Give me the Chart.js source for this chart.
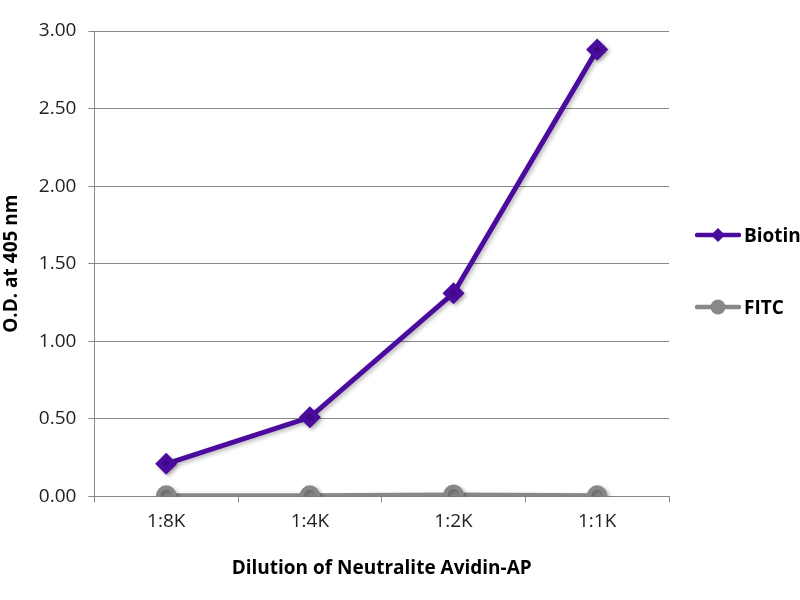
<!DOCTYPE html>
<html>
<head>
<meta charset="utf-8">
<script src="https://cdn.jsdelivr.net/npm/chart.js@4.4.0/dist/chart.umd.min.js"></script>
<style>
html,body{margin:0;padding:0;background:#fff;}
#wrap{position:relative;width:800px;height:600px;overflow:hidden;}
#legend{position:absolute;left:0;top:0;width:800px;height:600px;pointer-events:none;}
.item{position:absolute;left:695px;display:flex;align-items:center;height:22px;
  font-family:'Open Sans','Noto Sans',sans-serif;font-weight:bold;font-size:19px;color:#000;white-space:nowrap;}
.item canvas{display:block;margin-right:3px;}
</style>
</head>
<body>
<div id="wrap"><canvas id="c" width="800" height="600"></canvas><div id="legend"></div></div>
<script>
const categories = ["1:8K", "1:4K", "1:2K", "1:1K"];
const biotinValues = [0.21, 0.51, 1.31, 2.88];
const fitcValues = [0.005, 0.005, 0.01, 0.005];
const seriesNames = ["Biotin", "FITC"];
const yTickValues = [0, 0.5, 1, 1.5, 2, 2.5, 3];

const purple = "#4b0c9e";
const gray = "#888888";
const fontFam = "'Open Sans', 'Noto Sans', sans-serif";

function legendIcon(color, style) {
  const cv = document.createElement('canvas');
  cv.width = 46; cv.height = 18;
  const g = cv.getContext('2d');
  g.strokeStyle = color; g.lineWidth = 4.5; g.lineCap = 'round';
  g.beginPath(); g.moveTo(2, 9); g.lineTo(44, 9); g.stroke();
  g.fillStyle = color;
  g.beginPath();
  if (style === 'diamond') {
    g.moveTo(23, 2); g.lineTo(30, 9); g.lineTo(23, 16); g.lineTo(16, 9); g.closePath();
  } else {
    g.arc(23, 9, 7.5, 0, Math.PI * 2);
  }
  g.fill();
  return cv;
}

const shadowPlugin = {
  id: 'lineShadow',
  beforeDatasetsDraw(chart) {
    const ctx = chart.ctx;
    ctx.save();
    ctx.shadowColor = 'rgba(0,0,0,0.28)';
    ctx.shadowBlur = 4;
    ctx.shadowOffsetX = 2;
    ctx.shadowOffsetY = 2;
  },
  afterDatasetsDraw(chart) {
    chart.ctx.restore();
  }
};

const chart = new Chart(document.getElementById('c'), {
  type: 'line',
  data: {
    labels: categories,
    datasets: [
      {
        label: seriesNames[0], data: biotinValues,
        borderColor: purple, backgroundColor: purple,
        borderWidth: 5, pointStyle: 'rectRot', pointRadius: 7.5, pointHoverRadius: 7.5,
        tension: 0
      },
      {
        label: seriesNames[1], data: fitcValues,
        borderColor: gray, backgroundColor: gray,
        borderWidth: 4.5, pointStyle: 'circle', pointRadius: 8, pointHoverRadius: 8,
        tension: 0
      }
    ]
  },
  plugins: [shadowPlugin],
  options: {
    responsive: false,
    animation: false,
    devicePixelRatio: 1,
    layout: { padding: { top: 31, right: 131, bottom: 20, left: 0 } },
    plugins: {
      tooltip: { enabled: false },
      legend: { display: false }
    },
    scales: {
      x: {
        offset: true,
        grid: { drawOnChartArea: false, drawTicks: true, tickLength: 6, color: '#888', offset: true },
        border: { color: '#888', width: 1 },
        ticks: { color: '#222', font: { family: fontFam, size: 19 }, padding: 8 },
        title: { display: true, text: 'Dilution of Neutralite Avidin-AP', color: '#000',
                 font: { family: fontFam, size: 19, weight: 'bold' }, padding: { top: 16, bottom: 0 } }
      },
      y: {
        min: 0, max: 3,
        afterBuildTicks: (axis) => { axis.ticks = yTickValues.map(v => ({ value: v })); },
        grid: { color: '#888', lineWidth: 1, tickLength: 6 },
        border: { color: '#888', width: 1 },
        ticks: { color: '#222', font: { family: fontFam, size: 19 }, padding: 12,
                 callback: (v) => Number(v).toFixed(2) },
        title: { display: true, text: 'O.D. at 405 nm', color: '#000',
                 font: { family: fontFam, size: 19, weight: 'bold' }, padding: { top: 0, bottom: 4 } }
      }
    }
  }
});

// HTML legend built from the datasets
const legendEl = document.getElementById('legend');
const legendTops = [224, 296];
const legendStyles = ['diamond', 'circle'];
chart.data.datasets.forEach((ds, i) => {
  const row = document.createElement('div');
  row.className = 'item';
  row.style.top = legendTops[i] + 'px';
  row.appendChild(legendIcon(ds.borderColor, legendStyles[i]));
  const span = document.createElement('span');
  span.textContent = ds.label;
  row.appendChild(span);
  legendEl.appendChild(row);
});
</script>
</body>
</html>
